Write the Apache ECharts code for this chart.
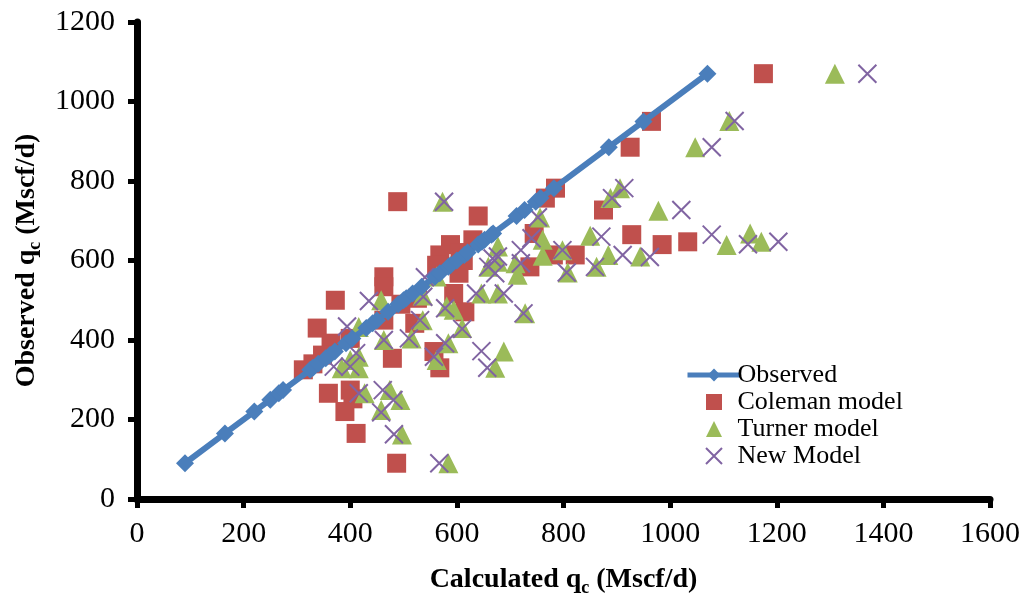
<!DOCTYPE html>
<html>
<head>
<meta charset="utf-8">
<script src="https://cdn.jsdelivr.net/npm/echarts@6/dist/echarts.min.js"></script>
<style>html,body{margin:0;padding:0;background:#fff}#c{width:1029px;height:599px}</style>
</head>
<body>
<div id="c"></div>
<script>
// Observed q_c values (Mscf/d) — plotted as x = y
var observed = [90,165,220,250,266,274,325,330,340,354,362,371,392,404,430,442,450,471,490,500,505,517,534,559,568,584,588,600,614,620,640,647,652,665,668,712,727,748,757,782,885,950,1070];
// [calculated, observed]
var coleman = [[1175,1070],[965,950],[925,885],[785,782],[766,757],[489,748],[875,727],[640,712],[928,665],[745,668],[985,640],[1033,647],[822,614],[781,614],[630,652],[588,640],[606,620],[568,614],[562,588],[612,600],[604,568],[737,584],[463,559],[463,534],[372,500],[495,490],[526,505],[594,517],[615,471],[463,450],[338,430],[521,442],[479,354],[557,371],[568,330],[312,325],[330,340],[400,404],[364,392],[348,362],[359,266],[400,274],[405,252],[390,220],[411,165],[487,90]];
var turner = [[1309,1070],[1111,951],[1047,885],[906,782],[888,757],[573,748],[978,725],[756,708],[850,662],[1150,668],[1106,639],[1171,647],[884,614],[944,610],[798,626],[808,570],[862,584],[761,652],[761,612],[677,635],[710,593],[714,564],[677,597],[659,584],[562,560],[646,517],[677,517],[728,467],[594,476],[536,450],[610,430],[581,484],[536,512],[458,500],[515,404],[463,400],[416,433],[584,392],[416,358],[688,371],[672,330],[562,350],[400,350],[416,329],[384,329],[474,274],[494,249],[427,266],[458,224],[497,162],[584,90]];
var newModel = [[1370,1070],[1121,951],[1078,885],[914,782],[891,757],[576,748],[1021,727],[752,709],[871,660],[1078,665],[1146,641],[1203,647],[911,614],[962,609],[806,570],[859,584],[798,626],[720,626],[720,593],[740,656],[677,610],[667,605],[659,584],[672,568],[540,558],[636,517],[688,517],[725,467],[578,480],[531,450],[610,428],[537,509],[435,498],[394,434],[463,400],[510,404],[578,392],[411,367],[369,333],[400,333],[646,372],[657,330],[557,358],[416,266],[461,274],[481,249],[458,218],[482,163],[567,90]];
var xTicks = {min:0, max:1600, interval:200};
var yTicks = {min:0, max:1200, interval:200};

var font = "'Liberation Serif','Times New Roman',serif";
var chart = echarts.init(document.getElementById('c'), null, {renderer:'canvas'});
function axisCommon(){
  return {
    axisLine:{show:true, onZero:false, lineStyle:{color:'#000', width:7}},
    axisTick:{show:true, inside:false, length:9, lineStyle:{color:'#000', width:5}},
    splitLine:{show:false},
    axisLabel:{color:'#000', fontFamily:font, fontSize:30, formatter:function(v){return String(v);}}
  };
}
var rich = {
  a:{fontFamily:font, fontSize:28, fontWeight:'bold', color:'#000', lineHeight:34},
  s:{fontFamily:font, fontSize:18, fontWeight:'bold', color:'#000', lineHeight:12, verticalAlign:'bottom'}
};
var xa = axisCommon();
xa.type='value'; xa.min=xTicks.min; xa.max=xTicks.max; xa.interval=xTicks.interval;
xa.axisLabel.margin = 20;
xa.name = '{a|Calculated q}{s|c}{a| (Mscf/d)}';
xa.nameLocation='middle'; xa.nameGap=64;
xa.nameTextStyle={rich:rich};
var ya = axisCommon();
ya.type='value'; ya.min=yTicks.min; ya.max=yTicks.max; ya.interval=yTicks.interval;
ya.axisLabel.margin = 22;
ya.name = '{a|Observed q}{s|c}{a| (Mscf/d)}';
ya.nameLocation='middle'; ya.nameGap=85; ya.nameRotate=90;
ya.nameTextStyle={rich:rich};

chart.setOption({
  animation:false,
  backgroundColor:'#fff',
  grid:{left:137, right:39, top:22, bottom:100, containLabel:false, outerBoundsMode:'none'},
  xAxis:xa,
  yAxis:ya,
  legend:{
    orient:'vertical', left:680, top:357, itemWidth:53, itemHeight:16, itemGap:1,
    textStyle:{fontFamily:font, fontSize:26, color:'#000', padding:[0,0,0,-8]},
    data:[
      {name:'Observed', lineStyle:{width:5}},
      {name:'Coleman model', icon:'path://M0 0H10V10H0Z'},
      {name:'Turner model', icon:'path://M5 0L10 10L0 10Z'},
      {name:'New Model', icon:'path://M0 0L20 20M20 0L0 20'}
    ]
  },
  series:[
    {name:'Observed', type:'line', data:observed.map(function(v){return [v,v];}),
     symbol:'diamond', symbolSize:18, showSymbol:true,
     lineStyle:{color:'#4A7EBB', width:6}, itemStyle:{color:'#4A7EBB'}},
    {name:'Coleman model', type:'scatter', data:coleman, symbol:'rect', symbolSize:19,
     itemStyle:{color:'#C0504D', opacity:1}},
    {name:'Turner model', type:'scatter', data:turner, symbol:'triangle', symbolSize:20,
     itemStyle:{color:'#9BBB59', opacity:1}},
    {name:'New Model', type:'scatter', data:newModel, symbol:'path://M0 0L20 20M20 0L0 20', symbolSize:18,
     itemStyle:{color:'rgba(0,0,0,0)', borderColor:'#8064A2', borderWidth:2, opacity:1}}
  ]
});
</script>
</body>
</html>
